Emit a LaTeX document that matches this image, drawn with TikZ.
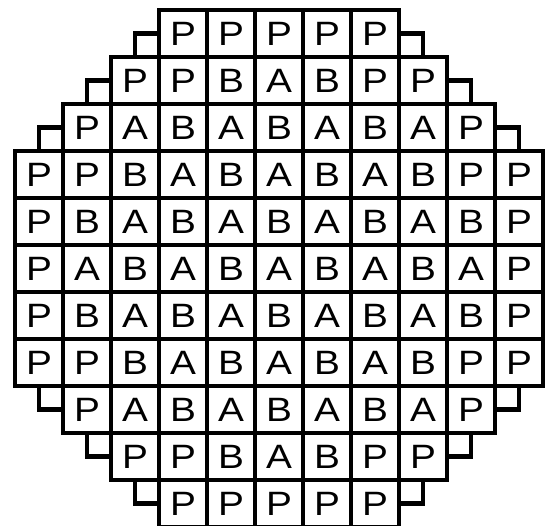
\documentclass[tikz,border=0pt]{standalone}
\usepackage{fontspec}
\setmainfont[FakeStretch=1.15]{Liberation Sans}

\begin{document}
\begin{tikzpicture}[x=1cm, y=0.979cm, line width=2.8pt,
    tile/.style={draw, rectangle, minimum width=1cm, minimum height=0.979cm,
        inner sep=0pt, outer sep=0pt, font=\fontsize{20}{20}\selectfont}]

    \useasboundingbox (-0.3125,0.213) rectangle (11.042,-10.98);

    % rows of tiles: row / first column / letters
    \foreach \r/\s/\row in {1/4/{P,P,P,P,P}, 2/3/{P,P,B,A,B,P,P},
        3/2/{P,A,B,A,B,A,B,A,P}, 4/1/{P,P,B,A,B,A,B,A,B,P,P},
        5/1/{P,B,A,B,A,B,A,B,A,B,P}, 6/1/{P,A,B,A,B,A,B,A,B,A,P},
        7/1/{P,B,A,B,A,B,A,B,A,B,P}, 8/1/{P,P,B,A,B,A,B,A,B,P,P},
        9/2/{P,A,B,A,B,A,B,A,P}, 10/3/{P,P,B,A,B,P,P}, 11/4/{P,P,P,P,P}} {
        \foreach \t [count=\i from 0] in \row {
            \pgfmathtruncatemacro{\c}{\s+\i}
            \node[tile] (c-\r-\c) at (\c-0.5,-\r+0.5) {\t};
        }
    }

    % small steps at the edges
    \foreach \r/\a/\b in {1/4/8, 2/3/9, 3/2/10} {
        \draw ([xshift=-0.5cm]c-\r-\a.south west) |- (c-\r-\a.west);
        \draw ([xshift=0.5cm]c-\r-\b.south east) |- (c-\r-\b.east);
    }
    \foreach \r/\a/\b in {9/2/10, 10/3/9, 11/4/8} {
        \draw ([xshift=-0.5cm]c-\r-\a.north west) |- (c-\r-\a.west);
        \draw ([xshift=0.5cm]c-\r-\b.north east) |- (c-\r-\b.east);
    }

\end{tikzpicture}
\end{document}
